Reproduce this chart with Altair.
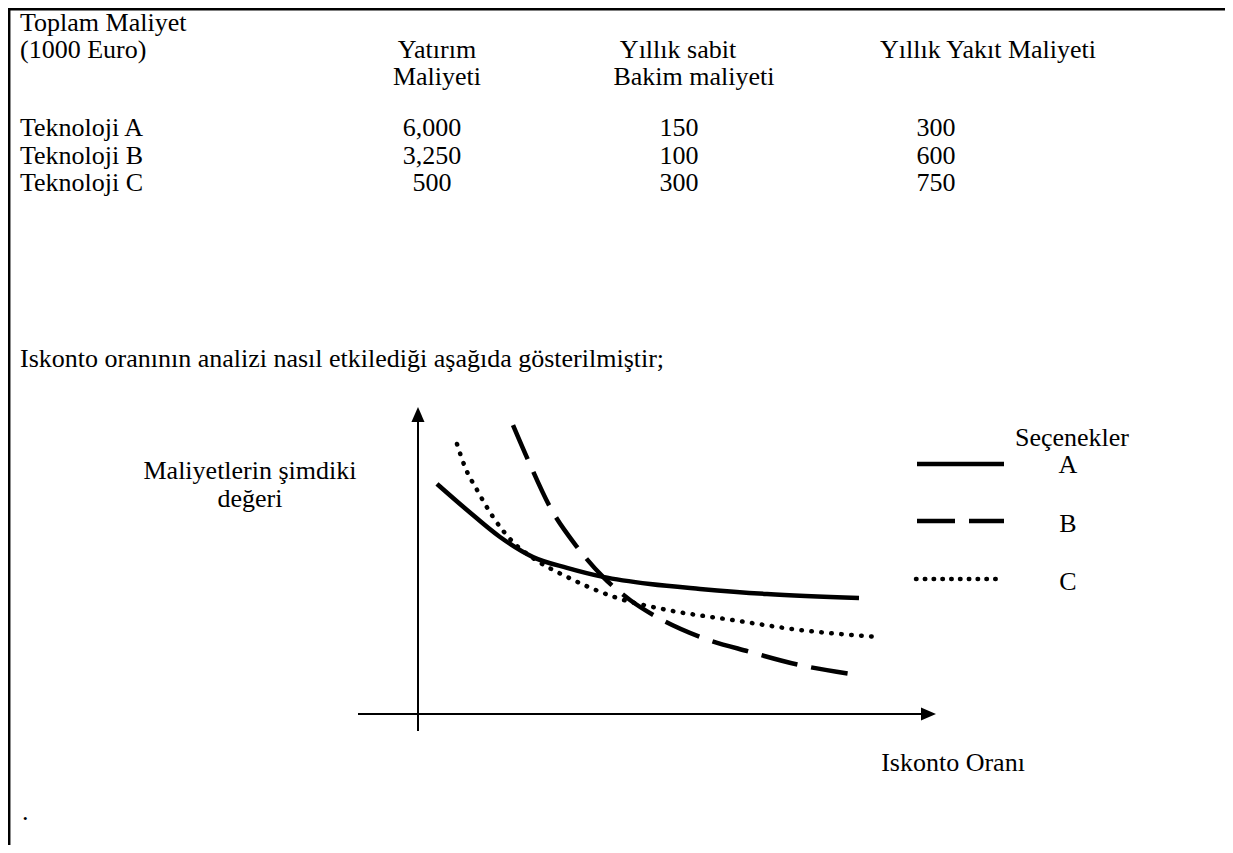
import altair as alt
import pandas as pd

# ---------------- data ----------------
header_title = ["Toplam Maliyet", "(1000 Euro)"]
col_headers = [["Yatırım", "Maliyeti"], ["Yıllık sabit", "Bakim maliyeti"], ["Yıllık Yakıt Maliyeti"]]
technologies = ["Teknoloji A", "Teknoloji B", "Teknoloji C"]
investment = [6000, 3250, 500]
fixed_om = [150, 100, 300]
fuel = [300, 600, 750]
sentence = "Iskonto oranının analizi nasıl etkilediği aşağıda gösterilmiştir;"
y_title = ["Maliyetlerin şimdiki", "değeri"]
x_title = "Iskonto Oranı"
legend_title = "Seçenekler"
options = ["A", "B", "C"]

# schematic curves: discount rate (arbitrary units) vs present value of costs (arbitrary units)
rate_A = [0.38, 0.98, 1.64, 2.30, 2.98, 3.70, 4.64, 5.64, 6.98, 8.82]
pv_A = [7.67, 6.80, 5.90, 5.23, 4.87, 4.57, 4.33, 4.17, 4.00, 3.87]
rate_B = [1.90, 2.20, 2.64, 3.18, 3.70, 4.24, 4.78, 5.64, 6.64, 7.64, 8.68]
pv_B = [9.63, 8.47, 6.90, 5.57, 4.57, 3.80, 3.23, 2.57, 2.07, 1.63, 1.33]
rate_C = [0.78, 0.94, 1.18, 1.50, 1.90, 2.30, 2.98, 3.98, 4.98, 6.30, 7.64, 9.18]
pv_C = [9.00, 8.23, 7.47, 6.57, 5.73, 5.20, 4.57, 3.87, 3.47, 3.13, 2.80, 2.57]

# ---------------- layout (page pixels of the reference) ----------------
W, H, OFF = 1217, 837, 8
GX0, GY0, UX, UY = 418, 714, 50.0, 30.0   # graph origin and unit sizes
FONT = "Liberation Serif"
FS = 26

page_x = alt.Scale(domain=[OFF, OFF + W], nice=False, zero=False)
page_y = alt.Scale(domain=[OFF, OFF + H], reverse=True, nice=False, zero=False)
g_x = alt.Scale(domain=[(OFF - GX0) / UX, (OFF + W - GX0) / UX], nice=False, zero=False)
g_y = alt.Scale(domain=[(GY0 - OFF - H) / UY, (GY0 - OFF) / UY], nice=False, zero=False)


def px(field):
    return alt.X(field, type="quantitative", scale=page_x, axis=None)


def py(field):
    return alt.Y(field, type="quantitative", scale=page_y, axis=None)


def gx(field):
    return alt.X(field, type="quantitative", scale=g_x, axis=None)


def gy(field):
    return alt.Y(field, type="quantitative", scale=g_y, axis=None)


# text items
left_texts = pd.DataFrame({
    "t": header_title + technologies + [sentence, "."],
    "x": [20, 20, 20, 20, 20, 20, 22],
    "y": [22.5, 49.5, 128, 156, 183, 359, 812],
})
center_texts = pd.DataFrame({
    "t": col_headers[0] + col_headers[1] + col_headers[2]
    + [f"{v:,}" for v in investment] + [str(v) for v in fixed_om] + [str(v) for v in fuel]
    + y_title + [x_title, legend_title] + options,
    "x": [437, 437, 678, 694, 988] + [432] * 3 + [679] * 3 + [936] * 3
    + [250, 250, 953, 1072, 1068, 1068, 1068],
    "y": [49.5, 77, 49.5, 77, 49.5] + [128, 156, 183] * 3
    + [471, 499, 763, 438, 465, 524, 582],
})

txt_left = alt.Chart(left_texts).mark_text(
    align="left", baseline="middle", font=FONT, fontSize=FS, color="black"
).encode(x=px("x"), y=py("y"), text="t:N")
txt_center = alt.Chart(center_texts).mark_text(
    align="center", baseline="middle", font=FONT, fontSize=FS, color="black"
).encode(x=px("x"), y=py("y"), text="t:N")

# frame borders
borders = alt.Chart(pd.DataFrame({
    "x": [OFF, 9.2], "x2": [OFF + W, 9.2], "y": [9.2, OFF], "y2": [9.2, OFF + H]
})).mark_rule(color="black", strokeWidth=2.5).encode(
    x=px("x"), x2="x2:Q", y=py("y"), y2="y2:Q")

# legend samples
leg = pd.DataFrame({"opt": options, "x": [917, 917, 916], "x2": [1004, 1004, 1004], "y": [464, 521, 579]})
leg_A = alt.Chart(leg[leg.opt == "A"]).mark_rule(color="black", strokeWidth=4.5).encode(
    x=px("x"), x2="x2:Q", y=py("y"))
leg_B = alt.Chart(leg[leg.opt == "B"]).mark_rule(
    color="black", strokeWidth=4.5, strokeDash=[38, 14]).encode(x=px("x"), x2="x2:Q", y=py("y"))
leg_C = alt.Chart(leg[leg.opt == "C"]).mark_rule(
    color="black", strokeWidth=4.5, strokeDash=[0.5, 8.3], strokeCap="round").encode(
    x=px("x"), x2="x2:Q", y=py("y"))

# graph axes (graph units)
axes = alt.Chart(pd.DataFrame({
    "x": [-1.2, 0.0], "x2": [10.1, 0.0], "y": [0.0, -0.57], "y2": [0.0, 9.9]
})).mark_rule(color="black", strokeWidth=2).encode(x=gx("x"), x2="x2:Q", y=gy("y"), y2="y2:Q")
arrow_up = alt.Chart(pd.DataFrame({"x": [0.0], "y": [(GY0 - 414.5) / UY]})).mark_point(
    shape="M0,-1L0.87,1L-0.87,1Z", size=225, filled=True, color="black", opacity=1, strokeWidth=0
).encode(x=gx("x"), y=gy("y"))
arrow_right = alt.Chart(pd.DataFrame({"x": [(928.5 - GX0) / UX], "y": [0.0]})).mark_point(
    shape="M1,0L-1,-0.87L-1,0.87Z", size=225, filled=True, color="black", opacity=1, strokeWidth=0
).encode(x=gx("x"), y=gy("y"))

# curves
dA = pd.DataFrame({"rate": rate_A, "pv": pv_A})
dB = pd.DataFrame({"rate": rate_B, "pv": pv_B})
dC = pd.DataFrame({"rate": rate_C, "pv": pv_C})
curve_A = alt.Chart(dA).mark_line(color="black", strokeWidth=4.5, interpolate="monotone").encode(
    x=gx("rate"), y=gy("pv"), order="rate:Q")
curve_B = alt.Chart(dB).mark_line(
    color="black", strokeWidth=4.5, strokeDash=[37, 14], interpolate="monotone").encode(
    x=gx("rate"), y=gy("pv"), order="rate:Q")
curve_C = alt.Chart(dC).mark_line(
    color="black", strokeWidth=4.5, strokeDash=[0.5, 9.5], strokeCap="round", interpolate="monotone"
).encode(x=gx("rate"), y=gy("pv"), order="rate:Q")

chart = alt.layer(
    borders, txt_left, txt_center, leg_A, leg_B, leg_C,
    axes, arrow_up, arrow_right, curve_A, curve_B, curve_C,
).resolve_scale(x="independent", y="independent").properties(
    width=W, height=H, padding=0, autosize="none", background="white"
).configure_view(stroke=None)

chart.save("out.html", embed_options={"renderer": "svg", "actions": False})
